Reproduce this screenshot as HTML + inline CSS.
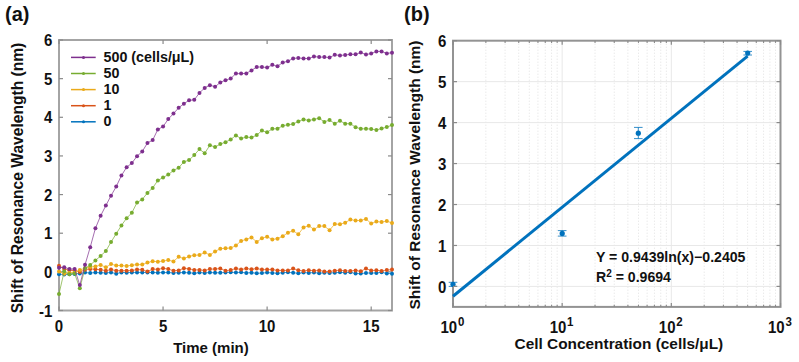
<!DOCTYPE html>
<html><head><meta charset="utf-8"><style>html,body{margin:0;padding:0;background:#fff;width:799px;height:362px;overflow:hidden}</style></head>
<body>
<svg width="799" height="362" viewBox="0 0 799 362" style="position:absolute;left:0;top:0">
<rect width="799" height="362" fill="#fff"/>
<rect x="59.0" y="40.0" width="333.0" height="270.5" fill="none" stroke="#a4a4a4" stroke-width="2"/>
<line x1="59.0" y1="310.50" x2="63.0" y2="310.50" stroke="#8a8a8a" stroke-width="1.2"/>
<line x1="388.0" y1="310.50" x2="392.0" y2="310.50" stroke="#8a8a8a" stroke-width="1.2"/>
<text transform="translate(52.4,316.70) scale(1,1.08)" text-anchor="end" font-size="15" font-family="Liberation Sans, sans-serif" font-weight="bold" fill="#111">-1</text>
<line x1="59.0" y1="271.86" x2="63.0" y2="271.86" stroke="#8a8a8a" stroke-width="1.2"/>
<line x1="388.0" y1="271.86" x2="392.0" y2="271.86" stroke="#8a8a8a" stroke-width="1.2"/>
<text transform="translate(52.4,278.06) scale(1,1.08)" text-anchor="end" font-size="15" font-family="Liberation Sans, sans-serif" font-weight="bold" fill="#111">0</text>
<line x1="59.0" y1="233.21" x2="63.0" y2="233.21" stroke="#8a8a8a" stroke-width="1.2"/>
<line x1="388.0" y1="233.21" x2="392.0" y2="233.21" stroke="#8a8a8a" stroke-width="1.2"/>
<text transform="translate(52.4,239.41) scale(1,1.08)" text-anchor="end" font-size="15" font-family="Liberation Sans, sans-serif" font-weight="bold" fill="#111">1</text>
<line x1="59.0" y1="194.57" x2="63.0" y2="194.57" stroke="#8a8a8a" stroke-width="1.2"/>
<line x1="388.0" y1="194.57" x2="392.0" y2="194.57" stroke="#8a8a8a" stroke-width="1.2"/>
<text transform="translate(52.4,200.77) scale(1,1.08)" text-anchor="end" font-size="15" font-family="Liberation Sans, sans-serif" font-weight="bold" fill="#111">2</text>
<line x1="59.0" y1="155.93" x2="63.0" y2="155.93" stroke="#8a8a8a" stroke-width="1.2"/>
<line x1="388.0" y1="155.93" x2="392.0" y2="155.93" stroke="#8a8a8a" stroke-width="1.2"/>
<text transform="translate(52.4,162.13) scale(1,1.08)" text-anchor="end" font-size="15" font-family="Liberation Sans, sans-serif" font-weight="bold" fill="#111">3</text>
<line x1="59.0" y1="117.29" x2="63.0" y2="117.29" stroke="#8a8a8a" stroke-width="1.2"/>
<line x1="388.0" y1="117.29" x2="392.0" y2="117.29" stroke="#8a8a8a" stroke-width="1.2"/>
<text transform="translate(52.4,123.49) scale(1,1.08)" text-anchor="end" font-size="15" font-family="Liberation Sans, sans-serif" font-weight="bold" fill="#111">4</text>
<line x1="59.0" y1="78.64" x2="63.0" y2="78.64" stroke="#8a8a8a" stroke-width="1.2"/>
<line x1="388.0" y1="78.64" x2="392.0" y2="78.64" stroke="#8a8a8a" stroke-width="1.2"/>
<text transform="translate(52.4,84.84) scale(1,1.08)" text-anchor="end" font-size="15" font-family="Liberation Sans, sans-serif" font-weight="bold" fill="#111">5</text>
<line x1="59.0" y1="40.00" x2="63.0" y2="40.00" stroke="#8a8a8a" stroke-width="1.2"/>
<line x1="388.0" y1="40.00" x2="392.0" y2="40.00" stroke="#8a8a8a" stroke-width="1.2"/>
<text transform="translate(52.4,46.20) scale(1,1.08)" text-anchor="end" font-size="15" font-family="Liberation Sans, sans-serif" font-weight="bold" fill="#111">6</text>
<line x1="59.00" y1="310.5" x2="59.00" y2="306.5" stroke="#8a8a8a" stroke-width="1.2"/>
<line x1="59.00" y1="40.0" x2="59.00" y2="44.0" stroke="#8a8a8a" stroke-width="1.2"/>
<text transform="translate(59.00,332.2) scale(1,1.08)" text-anchor="middle" font-size="15" font-family="Liberation Sans, sans-serif" font-weight="bold" fill="#111">0</text>
<line x1="163.06" y1="310.5" x2="163.06" y2="306.5" stroke="#8a8a8a" stroke-width="1.2"/>
<line x1="163.06" y1="40.0" x2="163.06" y2="44.0" stroke="#8a8a8a" stroke-width="1.2"/>
<text transform="translate(163.06,332.2) scale(1,1.08)" text-anchor="middle" font-size="15" font-family="Liberation Sans, sans-serif" font-weight="bold" fill="#111">5</text>
<line x1="267.12" y1="310.5" x2="267.12" y2="306.5" stroke="#8a8a8a" stroke-width="1.2"/>
<line x1="267.12" y1="40.0" x2="267.12" y2="44.0" stroke="#8a8a8a" stroke-width="1.2"/>
<text transform="translate(267.12,332.2) scale(1,1.08)" text-anchor="middle" font-size="15" font-family="Liberation Sans, sans-serif" font-weight="bold" fill="#111">10</text>
<line x1="371.19" y1="310.5" x2="371.19" y2="306.5" stroke="#8a8a8a" stroke-width="1.2"/>
<line x1="371.19" y1="40.0" x2="371.19" y2="44.0" stroke="#8a8a8a" stroke-width="1.2"/>
<text transform="translate(371.19,332.2) scale(1,1.08)" text-anchor="middle" font-size="15" font-family="Liberation Sans, sans-serif" font-weight="bold" fill="#111">15</text>
<polyline points="59.00,274.20 64.20,274.60 69.41,274.20 74.61,273.90 79.81,273.50 85.02,272.60 90.22,272.90 95.42,272.60 100.62,272.70 105.83,272.90 111.03,272.40 116.23,273.70 121.44,272.40 126.64,272.70 131.84,272.40 137.05,272.50 142.25,272.40 147.45,272.60 152.66,272.40 157.86,272.70 163.06,272.50 168.27,272.60 173.47,272.90 178.67,272.70 183.88,272.50 189.08,272.80 194.28,273.20 199.48,272.60 204.69,272.90 209.89,272.50 215.09,272.70 220.30,272.80 225.50,272.50 230.70,272.20 235.91,272.60 241.11,272.30 246.31,272.90 251.52,272.70 256.72,273.20 261.92,273.10 267.12,272.60 272.33,272.90 277.53,273.20 282.73,272.70 287.94,272.30 293.14,272.80 298.34,273.20 303.55,272.60 308.75,272.90 313.95,272.50 319.16,273.20 324.36,272.70 329.56,272.90 334.77,272.80 339.97,272.30 345.17,272.70 350.38,272.30 355.58,273.60 360.78,273.60 365.98,273.00 371.19,273.00 376.39,273.00 381.59,272.30 386.80,273.40 392.00,273.70" fill="none" stroke="#0072BD" stroke-width="0.7"/><circle cx="59.00" cy="274.20" r="2.0" fill="#0072BD"/><circle cx="64.20" cy="274.60" r="2.0" fill="#0072BD"/><circle cx="69.41" cy="274.20" r="2.0" fill="#0072BD"/><circle cx="74.61" cy="273.90" r="2.0" fill="#0072BD"/><circle cx="79.81" cy="273.50" r="2.0" fill="#0072BD"/><circle cx="85.02" cy="272.60" r="2.0" fill="#0072BD"/><circle cx="90.22" cy="272.90" r="2.0" fill="#0072BD"/><circle cx="95.42" cy="272.60" r="2.0" fill="#0072BD"/><circle cx="100.62" cy="272.70" r="2.0" fill="#0072BD"/><circle cx="105.83" cy="272.90" r="2.0" fill="#0072BD"/><circle cx="111.03" cy="272.40" r="2.0" fill="#0072BD"/><circle cx="116.23" cy="273.70" r="2.0" fill="#0072BD"/><circle cx="121.44" cy="272.40" r="2.0" fill="#0072BD"/><circle cx="126.64" cy="272.70" r="2.0" fill="#0072BD"/><circle cx="131.84" cy="272.40" r="2.0" fill="#0072BD"/><circle cx="137.05" cy="272.50" r="2.0" fill="#0072BD"/><circle cx="142.25" cy="272.40" r="2.0" fill="#0072BD"/><circle cx="147.45" cy="272.60" r="2.0" fill="#0072BD"/><circle cx="152.66" cy="272.40" r="2.0" fill="#0072BD"/><circle cx="157.86" cy="272.70" r="2.0" fill="#0072BD"/><circle cx="163.06" cy="272.50" r="2.0" fill="#0072BD"/><circle cx="168.27" cy="272.60" r="2.0" fill="#0072BD"/><circle cx="173.47" cy="272.90" r="2.0" fill="#0072BD"/><circle cx="178.67" cy="272.70" r="2.0" fill="#0072BD"/><circle cx="183.88" cy="272.50" r="2.0" fill="#0072BD"/><circle cx="189.08" cy="272.80" r="2.0" fill="#0072BD"/><circle cx="194.28" cy="273.20" r="2.0" fill="#0072BD"/><circle cx="199.48" cy="272.60" r="2.0" fill="#0072BD"/><circle cx="204.69" cy="272.90" r="2.0" fill="#0072BD"/><circle cx="209.89" cy="272.50" r="2.0" fill="#0072BD"/><circle cx="215.09" cy="272.70" r="2.0" fill="#0072BD"/><circle cx="220.30" cy="272.80" r="2.0" fill="#0072BD"/><circle cx="225.50" cy="272.50" r="2.0" fill="#0072BD"/><circle cx="230.70" cy="272.20" r="2.0" fill="#0072BD"/><circle cx="235.91" cy="272.60" r="2.0" fill="#0072BD"/><circle cx="241.11" cy="272.30" r="2.0" fill="#0072BD"/><circle cx="246.31" cy="272.90" r="2.0" fill="#0072BD"/><circle cx="251.52" cy="272.70" r="2.0" fill="#0072BD"/><circle cx="256.72" cy="273.20" r="2.0" fill="#0072BD"/><circle cx="261.92" cy="273.10" r="2.0" fill="#0072BD"/><circle cx="267.12" cy="272.60" r="2.0" fill="#0072BD"/><circle cx="272.33" cy="272.90" r="2.0" fill="#0072BD"/><circle cx="277.53" cy="273.20" r="2.0" fill="#0072BD"/><circle cx="282.73" cy="272.70" r="2.0" fill="#0072BD"/><circle cx="287.94" cy="272.30" r="2.0" fill="#0072BD"/><circle cx="293.14" cy="272.80" r="2.0" fill="#0072BD"/><circle cx="298.34" cy="273.20" r="2.0" fill="#0072BD"/><circle cx="303.55" cy="272.60" r="2.0" fill="#0072BD"/><circle cx="308.75" cy="272.90" r="2.0" fill="#0072BD"/><circle cx="313.95" cy="272.50" r="2.0" fill="#0072BD"/><circle cx="319.16" cy="273.20" r="2.0" fill="#0072BD"/><circle cx="324.36" cy="272.70" r="2.0" fill="#0072BD"/><circle cx="329.56" cy="272.90" r="2.0" fill="#0072BD"/><circle cx="334.77" cy="272.80" r="2.0" fill="#0072BD"/><circle cx="339.97" cy="272.30" r="2.0" fill="#0072BD"/><circle cx="345.17" cy="272.70" r="2.0" fill="#0072BD"/><circle cx="350.38" cy="272.30" r="2.0" fill="#0072BD"/><circle cx="355.58" cy="273.60" r="2.0" fill="#0072BD"/><circle cx="360.78" cy="273.60" r="2.0" fill="#0072BD"/><circle cx="365.98" cy="273.00" r="2.0" fill="#0072BD"/><circle cx="371.19" cy="273.00" r="2.0" fill="#0072BD"/><circle cx="376.39" cy="273.00" r="2.0" fill="#0072BD"/><circle cx="381.59" cy="272.30" r="2.0" fill="#0072BD"/><circle cx="386.80" cy="273.40" r="2.0" fill="#0072BD"/><circle cx="392.00" cy="273.70" r="2.0" fill="#0072BD"/>
<polyline points="59.00,265.70 64.20,268.90 69.41,270.30 74.61,270.50 79.81,271.90 85.02,269.80 90.22,268.90 95.42,269.30 100.62,269.70 105.83,270.70 111.03,269.60 116.23,270.70 121.44,270.70 126.64,270.70 131.84,270.50 137.05,269.60 142.25,269.80 147.45,271.60 152.66,269.10 157.86,269.40 163.06,268.30 168.27,269.10 173.47,270.70 178.67,270.40 183.88,268.30 189.08,268.90 194.28,269.90 199.48,269.90 204.69,270.40 209.89,269.10 215.09,269.10 220.30,268.50 225.50,270.80 230.70,270.10 235.91,268.50 241.11,269.60 246.31,268.50 251.52,269.30 256.72,268.50 261.92,269.60 267.12,269.60 272.33,269.60 277.53,270.40 282.73,270.40 287.94,270.50 293.14,268.60 298.34,270.30 303.55,271.00 308.75,270.30 313.95,270.70 319.16,270.50 324.36,271.40 329.56,271.50 334.77,270.70 339.97,270.20 345.17,270.90 350.38,270.90 355.58,270.40 360.78,271.30 365.98,268.50 371.19,270.60 376.39,270.20 381.59,270.90 386.80,270.10 392.00,269.50" fill="none" stroke="#D95319" stroke-width="0.7"/><circle cx="59.00" cy="265.70" r="2.0" fill="#D95319"/><circle cx="64.20" cy="268.90" r="2.0" fill="#D95319"/><circle cx="69.41" cy="270.30" r="2.0" fill="#D95319"/><circle cx="74.61" cy="270.50" r="2.0" fill="#D95319"/><circle cx="79.81" cy="271.90" r="2.0" fill="#D95319"/><circle cx="85.02" cy="269.80" r="2.0" fill="#D95319"/><circle cx="90.22" cy="268.90" r="2.0" fill="#D95319"/><circle cx="95.42" cy="269.30" r="2.0" fill="#D95319"/><circle cx="100.62" cy="269.70" r="2.0" fill="#D95319"/><circle cx="105.83" cy="270.70" r="2.0" fill="#D95319"/><circle cx="111.03" cy="269.60" r="2.0" fill="#D95319"/><circle cx="116.23" cy="270.70" r="2.0" fill="#D95319"/><circle cx="121.44" cy="270.70" r="2.0" fill="#D95319"/><circle cx="126.64" cy="270.70" r="2.0" fill="#D95319"/><circle cx="131.84" cy="270.50" r="2.0" fill="#D95319"/><circle cx="137.05" cy="269.60" r="2.0" fill="#D95319"/><circle cx="142.25" cy="269.80" r="2.0" fill="#D95319"/><circle cx="147.45" cy="271.60" r="2.0" fill="#D95319"/><circle cx="152.66" cy="269.10" r="2.0" fill="#D95319"/><circle cx="157.86" cy="269.40" r="2.0" fill="#D95319"/><circle cx="163.06" cy="268.30" r="2.0" fill="#D95319"/><circle cx="168.27" cy="269.10" r="2.0" fill="#D95319"/><circle cx="173.47" cy="270.70" r="2.0" fill="#D95319"/><circle cx="178.67" cy="270.40" r="2.0" fill="#D95319"/><circle cx="183.88" cy="268.30" r="2.0" fill="#D95319"/><circle cx="189.08" cy="268.90" r="2.0" fill="#D95319"/><circle cx="194.28" cy="269.90" r="2.0" fill="#D95319"/><circle cx="199.48" cy="269.90" r="2.0" fill="#D95319"/><circle cx="204.69" cy="270.40" r="2.0" fill="#D95319"/><circle cx="209.89" cy="269.10" r="2.0" fill="#D95319"/><circle cx="215.09" cy="269.10" r="2.0" fill="#D95319"/><circle cx="220.30" cy="268.50" r="2.0" fill="#D95319"/><circle cx="225.50" cy="270.80" r="2.0" fill="#D95319"/><circle cx="230.70" cy="270.10" r="2.0" fill="#D95319"/><circle cx="235.91" cy="268.50" r="2.0" fill="#D95319"/><circle cx="241.11" cy="269.60" r="2.0" fill="#D95319"/><circle cx="246.31" cy="268.50" r="2.0" fill="#D95319"/><circle cx="251.52" cy="269.30" r="2.0" fill="#D95319"/><circle cx="256.72" cy="268.50" r="2.0" fill="#D95319"/><circle cx="261.92" cy="269.60" r="2.0" fill="#D95319"/><circle cx="267.12" cy="269.60" r="2.0" fill="#D95319"/><circle cx="272.33" cy="269.60" r="2.0" fill="#D95319"/><circle cx="277.53" cy="270.40" r="2.0" fill="#D95319"/><circle cx="282.73" cy="270.40" r="2.0" fill="#D95319"/><circle cx="287.94" cy="270.50" r="2.0" fill="#D95319"/><circle cx="293.14" cy="268.60" r="2.0" fill="#D95319"/><circle cx="298.34" cy="270.30" r="2.0" fill="#D95319"/><circle cx="303.55" cy="271.00" r="2.0" fill="#D95319"/><circle cx="308.75" cy="270.30" r="2.0" fill="#D95319"/><circle cx="313.95" cy="270.70" r="2.0" fill="#D95319"/><circle cx="319.16" cy="270.50" r="2.0" fill="#D95319"/><circle cx="324.36" cy="271.40" r="2.0" fill="#D95319"/><circle cx="329.56" cy="271.50" r="2.0" fill="#D95319"/><circle cx="334.77" cy="270.70" r="2.0" fill="#D95319"/><circle cx="339.97" cy="270.20" r="2.0" fill="#D95319"/><circle cx="345.17" cy="270.90" r="2.0" fill="#D95319"/><circle cx="350.38" cy="270.90" r="2.0" fill="#D95319"/><circle cx="355.58" cy="270.40" r="2.0" fill="#D95319"/><circle cx="360.78" cy="271.30" r="2.0" fill="#D95319"/><circle cx="365.98" cy="268.50" r="2.0" fill="#D95319"/><circle cx="371.19" cy="270.60" r="2.0" fill="#D95319"/><circle cx="376.39" cy="270.20" r="2.0" fill="#D95319"/><circle cx="381.59" cy="270.90" r="2.0" fill="#D95319"/><circle cx="386.80" cy="270.10" r="2.0" fill="#D95319"/><circle cx="392.00" cy="269.50" r="2.0" fill="#D95319"/>
<polyline points="59.00,271.50 64.20,273.70 69.41,272.80 74.61,272.30 79.81,269.90 85.02,268.30 90.22,266.90 95.42,266.50 100.62,265.00 105.83,267.30 111.03,264.10 116.23,265.50 121.44,265.50 126.64,266.10 131.84,265.20 137.05,264.60 142.25,264.60 147.45,262.60 152.66,261.30 157.86,261.70 163.06,261.10 168.27,260.10 173.47,261.40 178.67,256.80 183.88,258.60 189.08,256.40 194.28,255.20 199.48,255.00 204.69,252.50 209.89,255.00 215.09,251.50 220.30,248.70 225.50,248.20 230.70,248.10 235.91,245.50 241.11,240.90 246.31,239.40 251.52,237.40 256.72,242.00 261.92,238.20 267.12,236.70 272.33,239.40 277.53,238.70 282.73,236.30 287.94,232.70 293.14,230.70 298.34,234.30 303.55,227.40 308.75,225.70 313.95,229.40 319.16,226.10 324.36,226.10 329.56,230.20 334.77,224.00 339.97,224.30 345.17,222.70 350.38,219.60 355.58,220.50 360.78,220.50 365.98,218.90 371.19,223.50 376.39,221.60 381.59,222.10 386.80,221.10 392.00,223.00" fill="none" stroke="#EAAA1A" stroke-width="0.7"/><circle cx="59.00" cy="271.50" r="2.0" fill="#EAAA1A"/><circle cx="64.20" cy="273.70" r="2.0" fill="#EAAA1A"/><circle cx="69.41" cy="272.80" r="2.0" fill="#EAAA1A"/><circle cx="74.61" cy="272.30" r="2.0" fill="#EAAA1A"/><circle cx="79.81" cy="269.90" r="2.0" fill="#EAAA1A"/><circle cx="85.02" cy="268.30" r="2.0" fill="#EAAA1A"/><circle cx="90.22" cy="266.90" r="2.0" fill="#EAAA1A"/><circle cx="95.42" cy="266.50" r="2.0" fill="#EAAA1A"/><circle cx="100.62" cy="265.00" r="2.0" fill="#EAAA1A"/><circle cx="105.83" cy="267.30" r="2.0" fill="#EAAA1A"/><circle cx="111.03" cy="264.10" r="2.0" fill="#EAAA1A"/><circle cx="116.23" cy="265.50" r="2.0" fill="#EAAA1A"/><circle cx="121.44" cy="265.50" r="2.0" fill="#EAAA1A"/><circle cx="126.64" cy="266.10" r="2.0" fill="#EAAA1A"/><circle cx="131.84" cy="265.20" r="2.0" fill="#EAAA1A"/><circle cx="137.05" cy="264.60" r="2.0" fill="#EAAA1A"/><circle cx="142.25" cy="264.60" r="2.0" fill="#EAAA1A"/><circle cx="147.45" cy="262.60" r="2.0" fill="#EAAA1A"/><circle cx="152.66" cy="261.30" r="2.0" fill="#EAAA1A"/><circle cx="157.86" cy="261.70" r="2.0" fill="#EAAA1A"/><circle cx="163.06" cy="261.10" r="2.0" fill="#EAAA1A"/><circle cx="168.27" cy="260.10" r="2.0" fill="#EAAA1A"/><circle cx="173.47" cy="261.40" r="2.0" fill="#EAAA1A"/><circle cx="178.67" cy="256.80" r="2.0" fill="#EAAA1A"/><circle cx="183.88" cy="258.60" r="2.0" fill="#EAAA1A"/><circle cx="189.08" cy="256.40" r="2.0" fill="#EAAA1A"/><circle cx="194.28" cy="255.20" r="2.0" fill="#EAAA1A"/><circle cx="199.48" cy="255.00" r="2.0" fill="#EAAA1A"/><circle cx="204.69" cy="252.50" r="2.0" fill="#EAAA1A"/><circle cx="209.89" cy="255.00" r="2.0" fill="#EAAA1A"/><circle cx="215.09" cy="251.50" r="2.0" fill="#EAAA1A"/><circle cx="220.30" cy="248.70" r="2.0" fill="#EAAA1A"/><circle cx="225.50" cy="248.20" r="2.0" fill="#EAAA1A"/><circle cx="230.70" cy="248.10" r="2.0" fill="#EAAA1A"/><circle cx="235.91" cy="245.50" r="2.0" fill="#EAAA1A"/><circle cx="241.11" cy="240.90" r="2.0" fill="#EAAA1A"/><circle cx="246.31" cy="239.40" r="2.0" fill="#EAAA1A"/><circle cx="251.52" cy="237.40" r="2.0" fill="#EAAA1A"/><circle cx="256.72" cy="242.00" r="2.0" fill="#EAAA1A"/><circle cx="261.92" cy="238.20" r="2.0" fill="#EAAA1A"/><circle cx="267.12" cy="236.70" r="2.0" fill="#EAAA1A"/><circle cx="272.33" cy="239.40" r="2.0" fill="#EAAA1A"/><circle cx="277.53" cy="238.70" r="2.0" fill="#EAAA1A"/><circle cx="282.73" cy="236.30" r="2.0" fill="#EAAA1A"/><circle cx="287.94" cy="232.70" r="2.0" fill="#EAAA1A"/><circle cx="293.14" cy="230.70" r="2.0" fill="#EAAA1A"/><circle cx="298.34" cy="234.30" r="2.0" fill="#EAAA1A"/><circle cx="303.55" cy="227.40" r="2.0" fill="#EAAA1A"/><circle cx="308.75" cy="225.70" r="2.0" fill="#EAAA1A"/><circle cx="313.95" cy="229.40" r="2.0" fill="#EAAA1A"/><circle cx="319.16" cy="226.10" r="2.0" fill="#EAAA1A"/><circle cx="324.36" cy="226.10" r="2.0" fill="#EAAA1A"/><circle cx="329.56" cy="230.20" r="2.0" fill="#EAAA1A"/><circle cx="334.77" cy="224.00" r="2.0" fill="#EAAA1A"/><circle cx="339.97" cy="224.30" r="2.0" fill="#EAAA1A"/><circle cx="345.17" cy="222.70" r="2.0" fill="#EAAA1A"/><circle cx="350.38" cy="219.60" r="2.0" fill="#EAAA1A"/><circle cx="355.58" cy="220.50" r="2.0" fill="#EAAA1A"/><circle cx="360.78" cy="220.50" r="2.0" fill="#EAAA1A"/><circle cx="365.98" cy="218.90" r="2.0" fill="#EAAA1A"/><circle cx="371.19" cy="223.50" r="2.0" fill="#EAAA1A"/><circle cx="376.39" cy="221.60" r="2.0" fill="#EAAA1A"/><circle cx="381.59" cy="222.10" r="2.0" fill="#EAAA1A"/><circle cx="386.80" cy="221.10" r="2.0" fill="#EAAA1A"/><circle cx="392.00" cy="223.00" r="2.0" fill="#EAAA1A"/>
<polyline points="59.00,294.00 64.20,271.30 69.41,274.30 74.61,273.50 79.81,288.30 85.02,268.30 90.22,265.00 95.42,260.50 100.62,255.90 105.83,251.00 111.03,242.10 116.23,233.70 121.44,225.40 126.64,218.20 131.84,212.80 137.05,202.60 142.25,199.40 147.45,192.90 152.66,187.90 157.86,180.40 163.06,177.60 168.27,174.60 173.47,170.50 178.67,167.70 183.88,161.90 189.08,160.10 194.28,155.10 199.48,149.10 204.69,153.30 209.89,145.20 215.09,147.10 220.30,144.10 225.50,142.20 230.70,139.40 235.91,135.50 241.11,138.50 246.31,137.10 251.52,137.60 256.72,135.10 261.92,130.60 267.12,132.30 272.33,128.80 277.53,128.80 282.73,125.70 287.94,124.80 293.14,124.00 298.34,121.50 303.55,119.40 308.75,120.50 313.95,119.40 319.16,118.20 324.36,121.90 329.56,120.00 334.77,123.70 339.97,120.80 345.17,123.70 350.38,123.70 355.58,127.30 360.78,128.80 365.98,128.80 371.19,129.00 376.39,130.00 381.59,128.50 386.80,127.10 392.00,125.10" fill="none" stroke="#77AC30" stroke-width="0.7"/><circle cx="59.00" cy="294.00" r="2.0" fill="#77AC30"/><circle cx="64.20" cy="271.30" r="2.0" fill="#77AC30"/><circle cx="69.41" cy="274.30" r="2.0" fill="#77AC30"/><circle cx="74.61" cy="273.50" r="2.0" fill="#77AC30"/><circle cx="79.81" cy="288.30" r="2.0" fill="#77AC30"/><circle cx="85.02" cy="268.30" r="2.0" fill="#77AC30"/><circle cx="90.22" cy="265.00" r="2.0" fill="#77AC30"/><circle cx="95.42" cy="260.50" r="2.0" fill="#77AC30"/><circle cx="100.62" cy="255.90" r="2.0" fill="#77AC30"/><circle cx="105.83" cy="251.00" r="2.0" fill="#77AC30"/><circle cx="111.03" cy="242.10" r="2.0" fill="#77AC30"/><circle cx="116.23" cy="233.70" r="2.0" fill="#77AC30"/><circle cx="121.44" cy="225.40" r="2.0" fill="#77AC30"/><circle cx="126.64" cy="218.20" r="2.0" fill="#77AC30"/><circle cx="131.84" cy="212.80" r="2.0" fill="#77AC30"/><circle cx="137.05" cy="202.60" r="2.0" fill="#77AC30"/><circle cx="142.25" cy="199.40" r="2.0" fill="#77AC30"/><circle cx="147.45" cy="192.90" r="2.0" fill="#77AC30"/><circle cx="152.66" cy="187.90" r="2.0" fill="#77AC30"/><circle cx="157.86" cy="180.40" r="2.0" fill="#77AC30"/><circle cx="163.06" cy="177.60" r="2.0" fill="#77AC30"/><circle cx="168.27" cy="174.60" r="2.0" fill="#77AC30"/><circle cx="173.47" cy="170.50" r="2.0" fill="#77AC30"/><circle cx="178.67" cy="167.70" r="2.0" fill="#77AC30"/><circle cx="183.88" cy="161.90" r="2.0" fill="#77AC30"/><circle cx="189.08" cy="160.10" r="2.0" fill="#77AC30"/><circle cx="194.28" cy="155.10" r="2.0" fill="#77AC30"/><circle cx="199.48" cy="149.10" r="2.0" fill="#77AC30"/><circle cx="204.69" cy="153.30" r="2.0" fill="#77AC30"/><circle cx="209.89" cy="145.20" r="2.0" fill="#77AC30"/><circle cx="215.09" cy="147.10" r="2.0" fill="#77AC30"/><circle cx="220.30" cy="144.10" r="2.0" fill="#77AC30"/><circle cx="225.50" cy="142.20" r="2.0" fill="#77AC30"/><circle cx="230.70" cy="139.40" r="2.0" fill="#77AC30"/><circle cx="235.91" cy="135.50" r="2.0" fill="#77AC30"/><circle cx="241.11" cy="138.50" r="2.0" fill="#77AC30"/><circle cx="246.31" cy="137.10" r="2.0" fill="#77AC30"/><circle cx="251.52" cy="137.60" r="2.0" fill="#77AC30"/><circle cx="256.72" cy="135.10" r="2.0" fill="#77AC30"/><circle cx="261.92" cy="130.60" r="2.0" fill="#77AC30"/><circle cx="267.12" cy="132.30" r="2.0" fill="#77AC30"/><circle cx="272.33" cy="128.80" r="2.0" fill="#77AC30"/><circle cx="277.53" cy="128.80" r="2.0" fill="#77AC30"/><circle cx="282.73" cy="125.70" r="2.0" fill="#77AC30"/><circle cx="287.94" cy="124.80" r="2.0" fill="#77AC30"/><circle cx="293.14" cy="124.00" r="2.0" fill="#77AC30"/><circle cx="298.34" cy="121.50" r="2.0" fill="#77AC30"/><circle cx="303.55" cy="119.40" r="2.0" fill="#77AC30"/><circle cx="308.75" cy="120.50" r="2.0" fill="#77AC30"/><circle cx="313.95" cy="119.40" r="2.0" fill="#77AC30"/><circle cx="319.16" cy="118.20" r="2.0" fill="#77AC30"/><circle cx="324.36" cy="121.90" r="2.0" fill="#77AC30"/><circle cx="329.56" cy="120.00" r="2.0" fill="#77AC30"/><circle cx="334.77" cy="123.70" r="2.0" fill="#77AC30"/><circle cx="339.97" cy="120.80" r="2.0" fill="#77AC30"/><circle cx="345.17" cy="123.70" r="2.0" fill="#77AC30"/><circle cx="350.38" cy="123.70" r="2.0" fill="#77AC30"/><circle cx="355.58" cy="127.30" r="2.0" fill="#77AC30"/><circle cx="360.78" cy="128.80" r="2.0" fill="#77AC30"/><circle cx="365.98" cy="128.80" r="2.0" fill="#77AC30"/><circle cx="371.19" cy="129.00" r="2.0" fill="#77AC30"/><circle cx="376.39" cy="130.00" r="2.0" fill="#77AC30"/><circle cx="381.59" cy="128.50" r="2.0" fill="#77AC30"/><circle cx="386.80" cy="127.10" r="2.0" fill="#77AC30"/><circle cx="392.00" cy="125.10" r="2.0" fill="#77AC30"/>
<polyline points="59.00,267.70 64.20,267.20 69.41,269.10 74.61,268.90 79.81,285.10 85.02,264.80 90.22,247.20 95.42,228.30 100.62,215.80 105.83,205.60 111.03,195.70 116.23,186.60 121.44,175.50 126.64,167.30 131.84,163.10 137.05,156.20 142.25,151.50 147.45,143.00 152.66,140.10 157.86,129.40 163.06,126.60 168.27,119.10 173.47,113.60 178.67,107.80 183.88,103.70 189.08,100.30 194.28,99.80 199.48,92.90 204.69,87.90 209.89,85.20 215.09,86.80 220.30,82.40 225.50,80.20 230.70,78.50 235.91,73.60 241.11,73.60 246.31,73.40 251.52,70.40 256.72,67.00 261.92,67.00 267.12,67.60 272.33,64.80 277.53,66.20 282.73,62.60 287.94,61.20 293.14,58.50 298.34,57.90 303.55,58.50 308.75,58.50 313.95,56.50 319.16,57.10 324.36,57.10 329.56,57.50 334.77,54.80 339.97,55.50 345.17,55.00 350.38,54.30 355.58,54.30 360.78,52.60 365.98,54.50 371.19,53.60 376.39,51.40 381.59,51.40 386.80,53.40 392.00,52.70" fill="none" stroke="#7E2F8E" stroke-width="0.7"/><circle cx="59.00" cy="267.70" r="2.0" fill="#7E2F8E"/><circle cx="64.20" cy="267.20" r="2.0" fill="#7E2F8E"/><circle cx="69.41" cy="269.10" r="2.0" fill="#7E2F8E"/><circle cx="74.61" cy="268.90" r="2.0" fill="#7E2F8E"/><circle cx="79.81" cy="285.10" r="2.0" fill="#7E2F8E"/><circle cx="85.02" cy="264.80" r="2.0" fill="#7E2F8E"/><circle cx="90.22" cy="247.20" r="2.0" fill="#7E2F8E"/><circle cx="95.42" cy="228.30" r="2.0" fill="#7E2F8E"/><circle cx="100.62" cy="215.80" r="2.0" fill="#7E2F8E"/><circle cx="105.83" cy="205.60" r="2.0" fill="#7E2F8E"/><circle cx="111.03" cy="195.70" r="2.0" fill="#7E2F8E"/><circle cx="116.23" cy="186.60" r="2.0" fill="#7E2F8E"/><circle cx="121.44" cy="175.50" r="2.0" fill="#7E2F8E"/><circle cx="126.64" cy="167.30" r="2.0" fill="#7E2F8E"/><circle cx="131.84" cy="163.10" r="2.0" fill="#7E2F8E"/><circle cx="137.05" cy="156.20" r="2.0" fill="#7E2F8E"/><circle cx="142.25" cy="151.50" r="2.0" fill="#7E2F8E"/><circle cx="147.45" cy="143.00" r="2.0" fill="#7E2F8E"/><circle cx="152.66" cy="140.10" r="2.0" fill="#7E2F8E"/><circle cx="157.86" cy="129.40" r="2.0" fill="#7E2F8E"/><circle cx="163.06" cy="126.60" r="2.0" fill="#7E2F8E"/><circle cx="168.27" cy="119.10" r="2.0" fill="#7E2F8E"/><circle cx="173.47" cy="113.60" r="2.0" fill="#7E2F8E"/><circle cx="178.67" cy="107.80" r="2.0" fill="#7E2F8E"/><circle cx="183.88" cy="103.70" r="2.0" fill="#7E2F8E"/><circle cx="189.08" cy="100.30" r="2.0" fill="#7E2F8E"/><circle cx="194.28" cy="99.80" r="2.0" fill="#7E2F8E"/><circle cx="199.48" cy="92.90" r="2.0" fill="#7E2F8E"/><circle cx="204.69" cy="87.90" r="2.0" fill="#7E2F8E"/><circle cx="209.89" cy="85.20" r="2.0" fill="#7E2F8E"/><circle cx="215.09" cy="86.80" r="2.0" fill="#7E2F8E"/><circle cx="220.30" cy="82.40" r="2.0" fill="#7E2F8E"/><circle cx="225.50" cy="80.20" r="2.0" fill="#7E2F8E"/><circle cx="230.70" cy="78.50" r="2.0" fill="#7E2F8E"/><circle cx="235.91" cy="73.60" r="2.0" fill="#7E2F8E"/><circle cx="241.11" cy="73.60" r="2.0" fill="#7E2F8E"/><circle cx="246.31" cy="73.40" r="2.0" fill="#7E2F8E"/><circle cx="251.52" cy="70.40" r="2.0" fill="#7E2F8E"/><circle cx="256.72" cy="67.00" r="2.0" fill="#7E2F8E"/><circle cx="261.92" cy="67.00" r="2.0" fill="#7E2F8E"/><circle cx="267.12" cy="67.60" r="2.0" fill="#7E2F8E"/><circle cx="272.33" cy="64.80" r="2.0" fill="#7E2F8E"/><circle cx="277.53" cy="66.20" r="2.0" fill="#7E2F8E"/><circle cx="282.73" cy="62.60" r="2.0" fill="#7E2F8E"/><circle cx="287.94" cy="61.20" r="2.0" fill="#7E2F8E"/><circle cx="293.14" cy="58.50" r="2.0" fill="#7E2F8E"/><circle cx="298.34" cy="57.90" r="2.0" fill="#7E2F8E"/><circle cx="303.55" cy="58.50" r="2.0" fill="#7E2F8E"/><circle cx="308.75" cy="58.50" r="2.0" fill="#7E2F8E"/><circle cx="313.95" cy="56.50" r="2.0" fill="#7E2F8E"/><circle cx="319.16" cy="57.10" r="2.0" fill="#7E2F8E"/><circle cx="324.36" cy="57.10" r="2.0" fill="#7E2F8E"/><circle cx="329.56" cy="57.50" r="2.0" fill="#7E2F8E"/><circle cx="334.77" cy="54.80" r="2.0" fill="#7E2F8E"/><circle cx="339.97" cy="55.50" r="2.0" fill="#7E2F8E"/><circle cx="345.17" cy="55.00" r="2.0" fill="#7E2F8E"/><circle cx="350.38" cy="54.30" r="2.0" fill="#7E2F8E"/><circle cx="355.58" cy="54.30" r="2.0" fill="#7E2F8E"/><circle cx="360.78" cy="52.60" r="2.0" fill="#7E2F8E"/><circle cx="365.98" cy="54.50" r="2.0" fill="#7E2F8E"/><circle cx="371.19" cy="53.60" r="2.0" fill="#7E2F8E"/><circle cx="376.39" cy="51.40" r="2.0" fill="#7E2F8E"/><circle cx="381.59" cy="51.40" r="2.0" fill="#7E2F8E"/><circle cx="386.80" cy="53.40" r="2.0" fill="#7E2F8E"/><circle cx="392.00" cy="52.70" r="2.0" fill="#7E2F8E"/>
<line x1="71" y1="57.40" x2="95.7" y2="57.40" stroke="#7E2F8E" stroke-width="1.5"/>
<circle cx="83.5" cy="57.40" r="1.5" fill="#7E2F8E"/>
<text x="103.5" y="62.00" font-size="14.3" font-family="Liberation Sans, sans-serif" font-weight="bold" fill="#111">500 (cells/μL)</text>
<line x1="71" y1="73.50" x2="95.7" y2="73.50" stroke="#77AC30" stroke-width="1.5"/>
<circle cx="83.5" cy="73.50" r="1.5" fill="#77AC30"/>
<text x="103.5" y="78.10" font-size="14.3" font-family="Liberation Sans, sans-serif" font-weight="bold" fill="#111">50</text>
<line x1="71" y1="89.60" x2="95.7" y2="89.60" stroke="#EAAA1A" stroke-width="1.5"/>
<circle cx="83.5" cy="89.60" r="1.5" fill="#EAAA1A"/>
<text x="103.5" y="94.20" font-size="14.3" font-family="Liberation Sans, sans-serif" font-weight="bold" fill="#111">10</text>
<line x1="71" y1="105.70" x2="95.7" y2="105.70" stroke="#D95319" stroke-width="1.5"/>
<circle cx="83.5" cy="105.70" r="1.5" fill="#D95319"/>
<text x="103.5" y="110.30" font-size="14.3" font-family="Liberation Sans, sans-serif" font-weight="bold" fill="#111">1</text>
<line x1="71" y1="121.80" x2="95.7" y2="121.80" stroke="#0072BD" stroke-width="1.5"/>
<circle cx="83.5" cy="121.80" r="1.5" fill="#0072BD"/>
<text x="103.5" y="126.40" font-size="14.3" font-family="Liberation Sans, sans-serif" font-weight="bold" fill="#111">0</text>
<text x="211" y="353" text-anchor="middle" font-size="15" font-family="Liberation Sans, sans-serif" font-weight="bold" fill="#111">Time (min)</text>
<text transform="translate(23.1,178.0) rotate(-90)" text-anchor="middle" font-size="15.6" font-family="Liberation Sans, sans-serif" font-weight="bold" fill="#111">Shift of Resonance Wavelength (nm)</text>
<text x="5" y="21.2" font-size="20" font-family="Liberation Sans, sans-serif" font-weight="bold" fill="#111">(a)</text>
<line x1="485.86" y1="40.7" x2="485.86" y2="306.9" stroke="#e0e0e0" stroke-width="1" stroke-dasharray="1,2"/>
<line x1="505.09" y1="40.7" x2="505.09" y2="306.9" stroke="#e0e0e0" stroke-width="1" stroke-dasharray="1,2"/>
<line x1="518.72" y1="40.7" x2="518.72" y2="306.9" stroke="#e0e0e0" stroke-width="1" stroke-dasharray="1,2"/>
<line x1="529.30" y1="40.7" x2="529.30" y2="306.9" stroke="#e0e0e0" stroke-width="1" stroke-dasharray="1,2"/>
<line x1="537.95" y1="40.7" x2="537.95" y2="306.9" stroke="#e0e0e0" stroke-width="1" stroke-dasharray="1,2"/>
<line x1="545.26" y1="40.7" x2="545.26" y2="306.9" stroke="#e0e0e0" stroke-width="1" stroke-dasharray="1,2"/>
<line x1="551.59" y1="40.7" x2="551.59" y2="306.9" stroke="#e0e0e0" stroke-width="1" stroke-dasharray="1,2"/>
<line x1="557.17" y1="40.7" x2="557.17" y2="306.9" stroke="#e0e0e0" stroke-width="1" stroke-dasharray="1,2"/>
<line x1="595.03" y1="40.7" x2="595.03" y2="306.9" stroke="#e0e0e0" stroke-width="1" stroke-dasharray="1,2"/>
<line x1="614.25" y1="40.7" x2="614.25" y2="306.9" stroke="#e0e0e0" stroke-width="1" stroke-dasharray="1,2"/>
<line x1="627.89" y1="40.7" x2="627.89" y2="306.9" stroke="#e0e0e0" stroke-width="1" stroke-dasharray="1,2"/>
<line x1="638.47" y1="40.7" x2="638.47" y2="306.9" stroke="#e0e0e0" stroke-width="1" stroke-dasharray="1,2"/>
<line x1="647.11" y1="40.7" x2="647.11" y2="306.9" stroke="#e0e0e0" stroke-width="1" stroke-dasharray="1,2"/>
<line x1="654.42" y1="40.7" x2="654.42" y2="306.9" stroke="#e0e0e0" stroke-width="1" stroke-dasharray="1,2"/>
<line x1="660.75" y1="40.7" x2="660.75" y2="306.9" stroke="#e0e0e0" stroke-width="1" stroke-dasharray="1,2"/>
<line x1="666.34" y1="40.7" x2="666.34" y2="306.9" stroke="#e0e0e0" stroke-width="1" stroke-dasharray="1,2"/>
<line x1="704.20" y1="40.7" x2="704.20" y2="306.9" stroke="#e0e0e0" stroke-width="1" stroke-dasharray="1,2"/>
<line x1="723.42" y1="40.7" x2="723.42" y2="306.9" stroke="#e0e0e0" stroke-width="1" stroke-dasharray="1,2"/>
<line x1="737.06" y1="40.7" x2="737.06" y2="306.9" stroke="#e0e0e0" stroke-width="1" stroke-dasharray="1,2"/>
<line x1="747.64" y1="40.7" x2="747.64" y2="306.9" stroke="#e0e0e0" stroke-width="1" stroke-dasharray="1,2"/>
<line x1="756.28" y1="40.7" x2="756.28" y2="306.9" stroke="#e0e0e0" stroke-width="1" stroke-dasharray="1,2"/>
<line x1="763.59" y1="40.7" x2="763.59" y2="306.9" stroke="#e0e0e0" stroke-width="1" stroke-dasharray="1,2"/>
<line x1="769.92" y1="40.7" x2="769.92" y2="306.9" stroke="#e0e0e0" stroke-width="1" stroke-dasharray="1,2"/>
<line x1="775.50" y1="40.7" x2="775.50" y2="306.9" stroke="#e0e0e0" stroke-width="1" stroke-dasharray="1,2"/>
<line x1="562.17" y1="40.7" x2="562.17" y2="306.9" stroke="#e8e8e8" stroke-width="1"/>
<line x1="671.33" y1="40.7" x2="671.33" y2="306.9" stroke="#e8e8e8" stroke-width="1"/>
<line x1="453.0" y1="286.42" x2="780.5" y2="286.42" stroke="#e8e8e8" stroke-width="1"/>
<line x1="453.0" y1="245.47" x2="780.5" y2="245.47" stroke="#e8e8e8" stroke-width="1"/>
<line x1="453.0" y1="204.52" x2="780.5" y2="204.52" stroke="#e8e8e8" stroke-width="1"/>
<line x1="453.0" y1="163.56" x2="780.5" y2="163.56" stroke="#e8e8e8" stroke-width="1"/>
<line x1="453.0" y1="122.61" x2="780.5" y2="122.61" stroke="#e8e8e8" stroke-width="1"/>
<line x1="453.0" y1="81.65" x2="780.5" y2="81.65" stroke="#e8e8e8" stroke-width="1"/>
<rect x="453.0" y="40.7" width="327.5" height="266.2" fill="none" stroke="#939393" stroke-width="2"/>
<line x1="453.00" y1="296.27" x2="747.64" y2="56.04" stroke="#0072BD" stroke-width="3"/>
<g stroke="#0072BD" stroke-width="0.8" fill="none"><line x1="453.0" y1="282.3" x2="453.0" y2="286.4"/><line x1="448.7" y1="282.3" x2="457.3" y2="282.3"/><line x1="448.7" y1="286.4" x2="457.3" y2="286.4"/></g>
<circle cx="453.0" cy="284.3" r="2.6" fill="#0072BD"/>
<g stroke="#0072BD" stroke-width="0.8" fill="none"><line x1="562.2" y1="230.6" x2="562.2" y2="236.1"/><line x1="557.9000000000001" y1="230.6" x2="566.5" y2="230.6"/><line x1="557.9000000000001" y1="236.1" x2="566.5" y2="236.1"/></g>
<circle cx="562.2" cy="233.4" r="2.6" fill="#0072BD"/>
<g stroke="#0072BD" stroke-width="0.8" fill="none"><line x1="638.3" y1="127.4" x2="638.3" y2="138.6"/><line x1="634.0" y1="127.4" x2="642.5999999999999" y2="127.4"/><line x1="634.0" y1="138.6" x2="642.5999999999999" y2="138.6"/></g>
<circle cx="638.3" cy="133.2" r="2.6" fill="#0072BD"/>
<g stroke="#0072BD" stroke-width="0.8" fill="none"><line x1="747.7" y1="51.4" x2="747.7" y2="55.0"/><line x1="743.4000000000001" y1="51.4" x2="752.0" y2="51.4"/><line x1="743.4000000000001" y1="55.0" x2="752.0" y2="55.0"/></g>
<circle cx="747.7" cy="53.1" r="2.6" fill="#0072BD"/>
<line x1="453.0" y1="286.42" x2="457.0" y2="286.42" stroke="#8a8a8a" stroke-width="1.2"/>
<line x1="776.5" y1="286.42" x2="780.5" y2="286.42" stroke="#8a8a8a" stroke-width="1.2"/>
<text transform="translate(446.4,292.62) scale(1,1.08)" text-anchor="end" font-size="15" font-family="Liberation Sans, sans-serif" font-weight="bold" fill="#111">0</text>
<line x1="453.0" y1="245.47" x2="457.0" y2="245.47" stroke="#8a8a8a" stroke-width="1.2"/>
<line x1="776.5" y1="245.47" x2="780.5" y2="245.47" stroke="#8a8a8a" stroke-width="1.2"/>
<text transform="translate(446.4,251.67) scale(1,1.08)" text-anchor="end" font-size="15" font-family="Liberation Sans, sans-serif" font-weight="bold" fill="#111">1</text>
<line x1="453.0" y1="204.52" x2="457.0" y2="204.52" stroke="#8a8a8a" stroke-width="1.2"/>
<line x1="776.5" y1="204.52" x2="780.5" y2="204.52" stroke="#8a8a8a" stroke-width="1.2"/>
<text transform="translate(446.4,210.72) scale(1,1.08)" text-anchor="end" font-size="15" font-family="Liberation Sans, sans-serif" font-weight="bold" fill="#111">2</text>
<line x1="453.0" y1="163.56" x2="457.0" y2="163.56" stroke="#8a8a8a" stroke-width="1.2"/>
<line x1="776.5" y1="163.56" x2="780.5" y2="163.56" stroke="#8a8a8a" stroke-width="1.2"/>
<text transform="translate(446.4,169.76) scale(1,1.08)" text-anchor="end" font-size="15" font-family="Liberation Sans, sans-serif" font-weight="bold" fill="#111">3</text>
<line x1="453.0" y1="122.61" x2="457.0" y2="122.61" stroke="#8a8a8a" stroke-width="1.2"/>
<line x1="776.5" y1="122.61" x2="780.5" y2="122.61" stroke="#8a8a8a" stroke-width="1.2"/>
<text transform="translate(446.4,128.81) scale(1,1.08)" text-anchor="end" font-size="15" font-family="Liberation Sans, sans-serif" font-weight="bold" fill="#111">4</text>
<line x1="453.0" y1="81.65" x2="457.0" y2="81.65" stroke="#8a8a8a" stroke-width="1.2"/>
<line x1="776.5" y1="81.65" x2="780.5" y2="81.65" stroke="#8a8a8a" stroke-width="1.2"/>
<text transform="translate(446.4,87.85) scale(1,1.08)" text-anchor="end" font-size="15" font-family="Liberation Sans, sans-serif" font-weight="bold" fill="#111">5</text>
<line x1="453.0" y1="40.70" x2="457.0" y2="40.70" stroke="#8a8a8a" stroke-width="1.2"/>
<line x1="776.5" y1="40.70" x2="780.5" y2="40.70" stroke="#8a8a8a" stroke-width="1.2"/>
<text transform="translate(446.4,46.90) scale(1,1.08)" text-anchor="end" font-size="15" font-family="Liberation Sans, sans-serif" font-weight="bold" fill="#111">6</text>
<line x1="453.00" y1="306.9" x2="453.00" y2="302.9" stroke="#8a8a8a" stroke-width="1.2"/>
<line x1="453.00" y1="40.7" x2="453.00" y2="44.7" stroke="#8a8a8a" stroke-width="1.2"/>
<text transform="translate(452.40,332.9) scale(1,1.08)" text-anchor="middle" font-size="15" font-family="Liberation Sans, sans-serif" font-weight="bold" fill="#111">10<tspan dx="0.8" dy="-6.8" font-size="11.5">0</tspan></text>
<line x1="485.86" y1="306.9" x2="485.86" y2="304.7" stroke="#8a8a8a" stroke-width="1.1"/>
<line x1="485.86" y1="40.7" x2="485.86" y2="42.900000000000006" stroke="#8a8a8a" stroke-width="1.1"/>
<line x1="505.09" y1="306.9" x2="505.09" y2="304.7" stroke="#8a8a8a" stroke-width="1.1"/>
<line x1="505.09" y1="40.7" x2="505.09" y2="42.900000000000006" stroke="#8a8a8a" stroke-width="1.1"/>
<line x1="518.72" y1="306.9" x2="518.72" y2="304.7" stroke="#8a8a8a" stroke-width="1.1"/>
<line x1="518.72" y1="40.7" x2="518.72" y2="42.900000000000006" stroke="#8a8a8a" stroke-width="1.1"/>
<line x1="529.30" y1="306.9" x2="529.30" y2="304.7" stroke="#8a8a8a" stroke-width="1.1"/>
<line x1="529.30" y1="40.7" x2="529.30" y2="42.900000000000006" stroke="#8a8a8a" stroke-width="1.1"/>
<line x1="537.95" y1="306.9" x2="537.95" y2="304.7" stroke="#8a8a8a" stroke-width="1.1"/>
<line x1="537.95" y1="40.7" x2="537.95" y2="42.900000000000006" stroke="#8a8a8a" stroke-width="1.1"/>
<line x1="545.26" y1="306.9" x2="545.26" y2="304.7" stroke="#8a8a8a" stroke-width="1.1"/>
<line x1="545.26" y1="40.7" x2="545.26" y2="42.900000000000006" stroke="#8a8a8a" stroke-width="1.1"/>
<line x1="551.59" y1="306.9" x2="551.59" y2="304.7" stroke="#8a8a8a" stroke-width="1.1"/>
<line x1="551.59" y1="40.7" x2="551.59" y2="42.900000000000006" stroke="#8a8a8a" stroke-width="1.1"/>
<line x1="557.17" y1="306.9" x2="557.17" y2="304.7" stroke="#8a8a8a" stroke-width="1.1"/>
<line x1="557.17" y1="40.7" x2="557.17" y2="42.900000000000006" stroke="#8a8a8a" stroke-width="1.1"/>
<line x1="562.17" y1="306.9" x2="562.17" y2="302.9" stroke="#8a8a8a" stroke-width="1.2"/>
<line x1="562.17" y1="40.7" x2="562.17" y2="44.7" stroke="#8a8a8a" stroke-width="1.2"/>
<text transform="translate(561.57,332.9) scale(1,1.08)" text-anchor="middle" font-size="15" font-family="Liberation Sans, sans-serif" font-weight="bold" fill="#111">10<tspan dx="0.8" dy="-6.8" font-size="11.5">1</tspan></text>
<line x1="595.03" y1="306.9" x2="595.03" y2="304.7" stroke="#8a8a8a" stroke-width="1.1"/>
<line x1="595.03" y1="40.7" x2="595.03" y2="42.900000000000006" stroke="#8a8a8a" stroke-width="1.1"/>
<line x1="614.25" y1="306.9" x2="614.25" y2="304.7" stroke="#8a8a8a" stroke-width="1.1"/>
<line x1="614.25" y1="40.7" x2="614.25" y2="42.900000000000006" stroke="#8a8a8a" stroke-width="1.1"/>
<line x1="627.89" y1="306.9" x2="627.89" y2="304.7" stroke="#8a8a8a" stroke-width="1.1"/>
<line x1="627.89" y1="40.7" x2="627.89" y2="42.900000000000006" stroke="#8a8a8a" stroke-width="1.1"/>
<line x1="638.47" y1="306.9" x2="638.47" y2="304.7" stroke="#8a8a8a" stroke-width="1.1"/>
<line x1="638.47" y1="40.7" x2="638.47" y2="42.900000000000006" stroke="#8a8a8a" stroke-width="1.1"/>
<line x1="647.11" y1="306.9" x2="647.11" y2="304.7" stroke="#8a8a8a" stroke-width="1.1"/>
<line x1="647.11" y1="40.7" x2="647.11" y2="42.900000000000006" stroke="#8a8a8a" stroke-width="1.1"/>
<line x1="654.42" y1="306.9" x2="654.42" y2="304.7" stroke="#8a8a8a" stroke-width="1.1"/>
<line x1="654.42" y1="40.7" x2="654.42" y2="42.900000000000006" stroke="#8a8a8a" stroke-width="1.1"/>
<line x1="660.75" y1="306.9" x2="660.75" y2="304.7" stroke="#8a8a8a" stroke-width="1.1"/>
<line x1="660.75" y1="40.7" x2="660.75" y2="42.900000000000006" stroke="#8a8a8a" stroke-width="1.1"/>
<line x1="666.34" y1="306.9" x2="666.34" y2="304.7" stroke="#8a8a8a" stroke-width="1.1"/>
<line x1="666.34" y1="40.7" x2="666.34" y2="42.900000000000006" stroke="#8a8a8a" stroke-width="1.1"/>
<line x1="671.33" y1="306.9" x2="671.33" y2="302.9" stroke="#8a8a8a" stroke-width="1.2"/>
<line x1="671.33" y1="40.7" x2="671.33" y2="44.7" stroke="#8a8a8a" stroke-width="1.2"/>
<text transform="translate(670.73,332.9) scale(1,1.08)" text-anchor="middle" font-size="15" font-family="Liberation Sans, sans-serif" font-weight="bold" fill="#111">10<tspan dx="0.8" dy="-6.8" font-size="11.5">2</tspan></text>
<line x1="704.20" y1="306.9" x2="704.20" y2="304.7" stroke="#8a8a8a" stroke-width="1.1"/>
<line x1="704.20" y1="40.7" x2="704.20" y2="42.900000000000006" stroke="#8a8a8a" stroke-width="1.1"/>
<line x1="723.42" y1="306.9" x2="723.42" y2="304.7" stroke="#8a8a8a" stroke-width="1.1"/>
<line x1="723.42" y1="40.7" x2="723.42" y2="42.900000000000006" stroke="#8a8a8a" stroke-width="1.1"/>
<line x1="737.06" y1="306.9" x2="737.06" y2="304.7" stroke="#8a8a8a" stroke-width="1.1"/>
<line x1="737.06" y1="40.7" x2="737.06" y2="42.900000000000006" stroke="#8a8a8a" stroke-width="1.1"/>
<line x1="747.64" y1="306.9" x2="747.64" y2="304.7" stroke="#8a8a8a" stroke-width="1.1"/>
<line x1="747.64" y1="40.7" x2="747.64" y2="42.900000000000006" stroke="#8a8a8a" stroke-width="1.1"/>
<line x1="756.28" y1="306.9" x2="756.28" y2="304.7" stroke="#8a8a8a" stroke-width="1.1"/>
<line x1="756.28" y1="40.7" x2="756.28" y2="42.900000000000006" stroke="#8a8a8a" stroke-width="1.1"/>
<line x1="763.59" y1="306.9" x2="763.59" y2="304.7" stroke="#8a8a8a" stroke-width="1.1"/>
<line x1="763.59" y1="40.7" x2="763.59" y2="42.900000000000006" stroke="#8a8a8a" stroke-width="1.1"/>
<line x1="769.92" y1="306.9" x2="769.92" y2="304.7" stroke="#8a8a8a" stroke-width="1.1"/>
<line x1="769.92" y1="40.7" x2="769.92" y2="42.900000000000006" stroke="#8a8a8a" stroke-width="1.1"/>
<line x1="775.50" y1="306.9" x2="775.50" y2="304.7" stroke="#8a8a8a" stroke-width="1.1"/>
<line x1="775.50" y1="40.7" x2="775.50" y2="42.900000000000006" stroke="#8a8a8a" stroke-width="1.1"/>
<line x1="780.50" y1="306.9" x2="780.50" y2="302.9" stroke="#8a8a8a" stroke-width="1.2"/>
<line x1="780.50" y1="40.7" x2="780.50" y2="44.7" stroke="#8a8a8a" stroke-width="1.2"/>
<text transform="translate(779.90,332.9) scale(1,1.08)" text-anchor="middle" font-size="15" font-family="Liberation Sans, sans-serif" font-weight="bold" fill="#111">10<tspan dx="0.8" dy="-6.8" font-size="11.5">3</tspan></text>
<text x="618.9" y="349.3" text-anchor="middle" font-size="15.4" font-family="Liberation Sans, sans-serif" font-weight="bold" fill="#111">Cell Concentration (cells/μL)</text>
<text transform="translate(420.0,175.0) rotate(-90)" text-anchor="middle" font-size="15.5" font-family="Liberation Sans, sans-serif" font-weight="bold" fill="#111">Shift of Resonance Wavelength (nm)</text>
<text x="404" y="21.2" font-size="20" font-family="Liberation Sans, sans-serif" font-weight="bold" fill="#111">(b)</text>
<text x="596" y="261.6" font-size="14.1" font-family="Liberation Sans, sans-serif" font-weight="bold" fill="#111">Y = 0.9439ln(x)−0.2405</text>
<text x="596" y="282" font-size="14.1" font-family="Liberation Sans, sans-serif" font-weight="bold" fill="#111">R<tspan dy="-5" font-size="10">2</tspan><tspan dy="5"> = 0.9694</tspan></text>
</svg>
</body></html>
